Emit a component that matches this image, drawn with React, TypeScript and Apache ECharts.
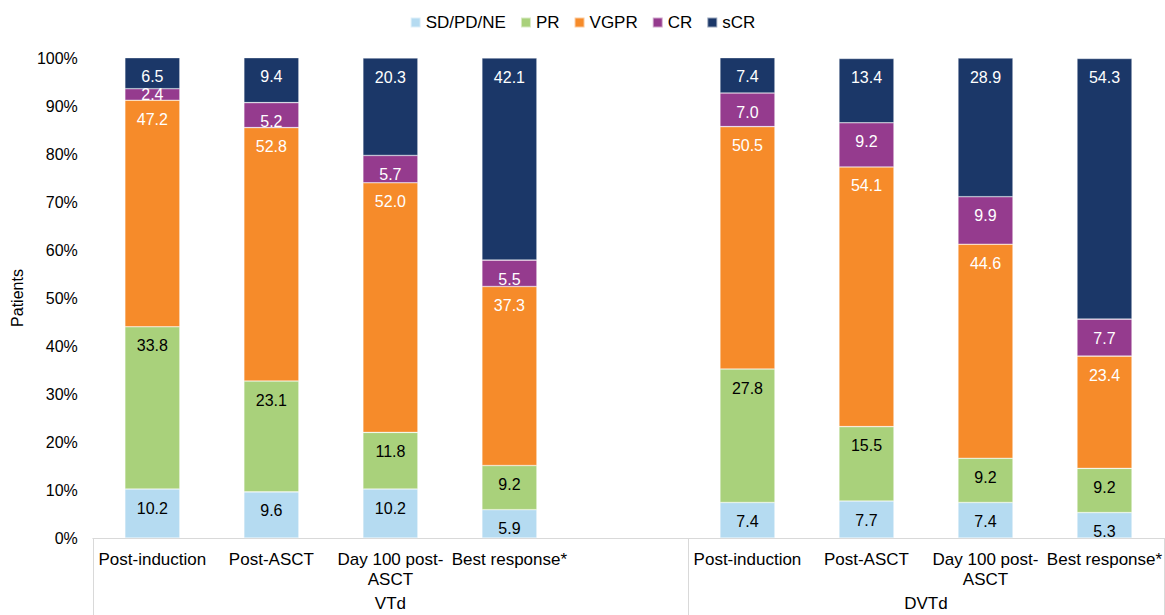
import React, { useEffect, useRef } from "react";
import * as echarts from "echarts";

const categories = [
  "Post-induction",
  "Post-ASCT",
  "Day 100 post-\nASCT",
  "Best response*",
  "",
  "Post-induction",
  "Post-ASCT",
  "Day 100 post-\nASCT",
  "Best response*",
];

const groups = [
  { name: "VTd", start: 0, end: 4 },
  { name: "DVTd", start: 5, end: 8 },
];

const seriesNames = ["SD/PD/NE", "PR", "VGPR", "CR", "sCR"];
const sdPdNe = [10.2, 9.6, 10.2, 5.9, null, 7.4, 7.7, 7.4, 5.3];
const pr = [33.8, 23.1, 11.8, 9.2, null, 27.8, 15.5, 9.2, 9.2];
const vgpr = [47.2, 52.8, 52.0, 37.3, null, 50.5, 54.1, 44.6, 23.4];
const cr = [2.4, 5.2, 5.7, 5.5, null, 7.0, 9.2, 9.9, 7.7];
const scr = [6.5, 9.4, 20.3, 42.1, null, 7.4, 13.4, 28.9, 54.3];

const yTicks = [0, 10, 20, 30, 40, 50, 60, 70, 80, 90, 100];

const colors = ["#b5dbf1", "#a9d17b", "#f68b2a", "#953b8e", "#1b3768"];
const labelColors = ["#000000", "#000000", "#ffffff", "#ffffff", "#ffffff"];

const FONT = "'Liberation Sans', Arial, sans-serif";

export default function App() {
  const ref = useRef<HTMLDivElement>(null);

  useEffect(() => {
    document.body.style.margin = "0";
    if (!ref.current) return;
    const chart = echarts.init(ref.current, undefined, { renderer: "svg" });
    const allData = [sdPdNe, pr, vgpr, cr, scr];

    const series = allData.map((arr, si) => ({
      name: seriesNames[si],
      type: "bar",
      stack: "total",
      barWidth: 55,
      itemStyle: {
        color: colors[si],
        borderColor: "rgba(255,255,255,0.55)",
        borderWidth: 0.6,
      },
      data: arr.map((v) =>
        v === null
          ? "-"
          : {
              value: v,
              label: {
                position: v < 3 ? "inside" : "insideTop",
                distance: 11,
              },
            }
      ),
      label: {
        show: true,
        color: labelColors[si],
        fontFamily: FONT,
        fontSize: 16,
        formatter: (p: any) => Number(p.value).toFixed(1),
      },
    }));

    chart.setOption({
      animation: false,
      textStyle: { fontFamily: FONT },
      legend: {
        data: seriesNames,
        top: 9,
        left: "center",
        icon: "rect",
        itemWidth: 10,
        itemHeight: 10,
        itemGap: 14,
        textStyle: { fontFamily: FONT, fontSize: 17, color: "#000" },
      },
      grid: { left: 92.85, top: 58, width: 1073.7, height: 480 },
      xAxis: {
        type: "category",
        data: categories,
        axisLine: { show: true, lineStyle: { color: "#d9d9d9", width: 1 } },
        axisTick: {
          show: true,
          alignWithLabel: false,
          interval: (index: number) => groups.some((g) => g.start === index),
          length: 90,
          lineStyle: { color: "#d9d9d9", width: 1 },
        },
        axisLabel: {
          interval: 0,
          margin: 11,
          fontFamily: FONT,
          fontSize: 17,
          lineHeight: 20,
          color: "#000",
        },
      },
      yAxis: {
        type: "value",
        min: yTicks[0],
        max: yTicks[yTicks.length - 1],
        interval: 10,
        name: "Patients",
        nameLocation: "middle",
        nameGap: 67,
        nameRotate: 90,
        nameTextStyle: { fontFamily: FONT, fontSize: 16, color: "#000" },
        axisLine: { show: false },
        axisTick: { show: false },
        splitLine: { show: false },
        axisLabel: {
          formatter: "{value}%",
          margin: 15,
          fontFamily: FONT,
          fontSize: 16,
          color: "#000",
        },
      },
      series,
    });

    const graphics = groups.map((g) => {
      const x0 = chart.convertToPixel({ xAxisIndex: 0 }, g.start) as number;
      const x1 = chart.convertToPixel({ xAxisIndex: 0 }, g.end) as number;
      const y0 = chart.convertToPixel({ yAxisIndex: 0 }, 0) as number;
      return {
        type: "text",
        x: (x0 + x1) / 2,
        y: y0 + 65,
        style: {
          text: g.name,
          fontFamily: FONT,
          fontSize: 17,
          fill: "#000",
          align: "center",
          verticalAlign: "middle",
        },
      };
    });
    chart.setOption({ graphic: graphics });

    return () => chart.dispose();
  }, []);

  return <div ref={ref} style={{ width: 1165, height: 615 }} />;
}
